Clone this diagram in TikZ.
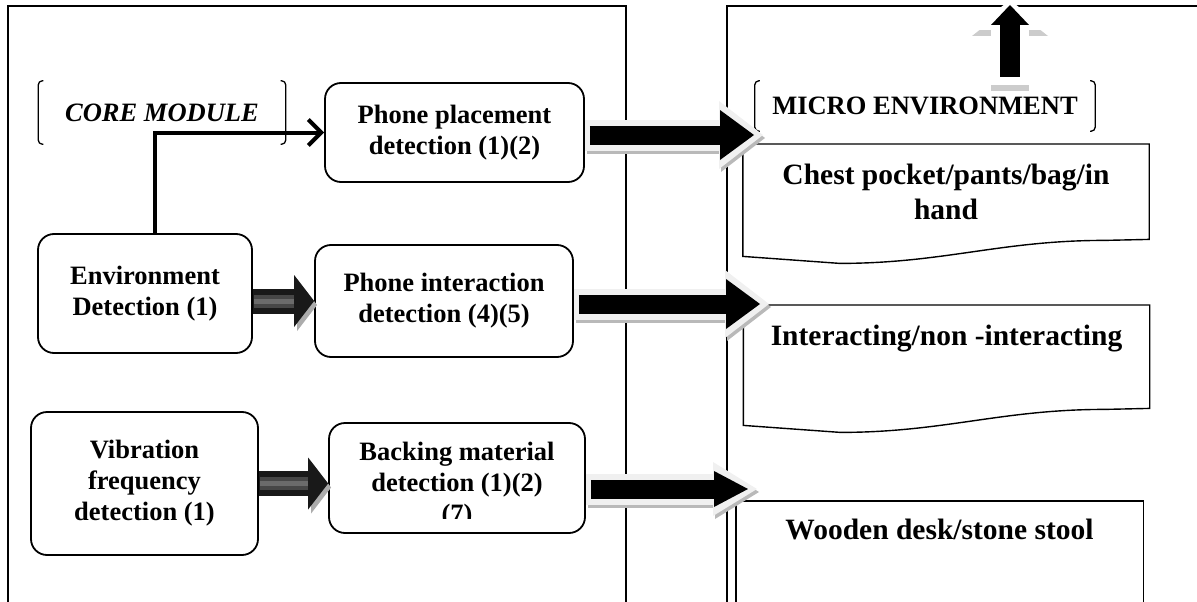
\documentclass[tikz,border=0pt]{standalone}
\usepackage{fontspec}
\setmainfont{Liberation Serif}
\usetikzlibrary{arrows.meta,calc,positioning}
\newcommand{\boxfont}{\fontsize{26.5}{31}\selectfont\bfseries}
\newcommand{\docfont}{\fontsize{29.5}{35}\selectfont\bfseries}

\begin{document}
\begin{tikzpicture}[x=1pt, y=-1pt,
  panel/.style={line width=1.6pt},
  detect/.style={draw, rounded corners=16pt, line width=1.8pt, align=center, font=\boxfont, inner sep=0pt},
  tag/.style={font=\boxfont, inner sep=0pt},
  brace/.style={line width=1.3pt, rounded corners=4pt},
  doc/.style={font=\docfont, inner sep=0pt, minimum width=406pt},
  docline/.style={line width=1.4pt},
  elbow/.style={line width=4pt, -{Straight Barb[length=13pt,width=26pt]}},
  stub/.style={line width=25pt, draw=black!90, -{Triangle[length=20pt,width=52pt,line width=0pt]},
    preaction={draw=gray!65, transform canvas={shift={(3pt,-4pt)}}, -{Triangle[length=20pt,width=52pt,line width=0pt]}},
    postaction={draw=black!72, line width=13pt, -, shorten >=20pt, shorten <=1pt},
    postaction={draw=black!58, line width=5pt, -, shorten >=20pt, shorten <=1pt}},
  fat/.style 2 args={line width=19pt, shorten <=5pt, -{Triangle[length=34pt,width=#1,line width=0pt]},
    preaction={draw=gray!55, line width=31pt, shorten <=0pt, shorten >=-9pt, transform canvas={shift={(2pt,-3pt)}}, -{Triangle[length=44pt,width=#2,line width=0pt]}},
    preaction={draw=gray!12, line width=31pt, shorten <=0pt, shorten >=-9pt, -{Triangle[length=44pt,width=#2,line width=0pt]}}},
  uparrow/.style={line width=20pt, -{Triangle[length=20pt,width=38pt,line width=0pt]},
    preaction={draw=gray!40, line width=38pt, shorten <=-8pt, shorten >=-5pt, transform canvas={shift={(0pt,-6pt)}}, -{Triangle[length=30pt,width=76pt,line width=0pt]}},
    preaction={draw=white, line width=38pt, shorten <=-8pt, shorten >=-5pt, -{Triangle[length=30pt,width=76pt,line width=0pt]}}}
]
\useasboundingbox (0,0) rectangle (1197,602);

% the two frames
\draw[panel] (8,602) -- (8,6) -- (626,6) -- (626,602);
\draw[panel] (727,602) -- (727,6) -- (1197,6);

% core module side
\node[tag, minimum width=247pt, minimum height=63pt] (core) at (162,112.5) {\textit{CORE MODULE}};
\node[detect, minimum width=259pt, minimum height=99pt] (place) at (454.5,132.5) {Phone placement\\detection (1)(2)};
\node[detect, minimum width=214pt, minimum height=119pt] (env) at (145,293.5) {Environment\\Detection (1)};
\node[detect, minimum width=258pt, minimum height=112pt] (inter) at (444,301) {Phone interaction\\detection (4)(5)};
\node[detect, minimum width=227pt, minimum height=143pt] (vib) at (144.5,483.5) {Vibration\\frequency\\detection (1)};
\node[detect, minimum width=256pt, minimum height=110pt] (back) at (457,478) {};
\begin{scope}
  \clip (back.north west) rectangle ($(back.south east)+(0,-15)$);
  \node[tag, align=center] (backtext) at ($(back)+(0,7)$) {Backing material\\detection (1)(2)\\(7)};
\end{scope}

% micro environment side
\node[tag, minimum width=340pt, minimum height=50pt] (micro) at (925,106) {MICRO ENVIRONMENT};
\node[doc, align=center, minimum height=95pt, anchor=north] (chest) at (946,144) {Chest pocket/pants/bag/in\\hand};
\node[doc, text height=40pt, text depth=63pt, anchor=north] (interact) at (946.5,305) {Interacting/non -interacting};
\node[doc, text height=38pt, text depth=100pt, minimum width=407pt, anchor=north] (wood) at (939.5,501) {Wooden desk/stone stool};

\foreach \t in {core,micro} {
  \draw[brace] ($(\t.north west)+(5,0)$) -- (\t.north west) -- (\t.south west) -- ++(5,0);
  \draw[brace] ($(\t.north east)+(-5,0)$) -- (\t.north east) -- (\t.south east) -- ++(-5,0);
}
\foreach \d in {chest,interact}
  \draw[docline] (\d.south east) -- ++(-45,1) to[out=180,in=0] ($(\d.south west)+(97,24)$)
    -- ($(\d.south west)+(0,17)$) -- (\d.north west) -- (\d.north east) -- cycle;
\draw[docline] (wood.south west) rectangle (wood.north east);

% connectors
\coordinate (tip1) at (754,135);
\coordinate (tip2) at (760,304);
\coordinate (tip3) at (748,489);
\coordinate (upfoot) at (1010,77);
\coordinate (uptip) at (1010,5);

\draw[elbow] ($(env.north)+(10,0)$) |- (place.west);
\draw[stub] (inter.west -| env.east) -- (inter.west);
\draw[stub] (vib.east) -- (vib.east -| back.west);
\draw[fat={50pt}{68pt}] (tip1 -| place.east) -- (tip1);
\draw[fat={50pt}{68pt}] (tip2 -| inter.east) -- (tip2);
\draw[fat={36pt}{54pt}] (tip3 -| back.east) -- (tip3);
\draw[uparrow] (upfoot) -- (uptip);
\end{tikzpicture}
\end{document}
